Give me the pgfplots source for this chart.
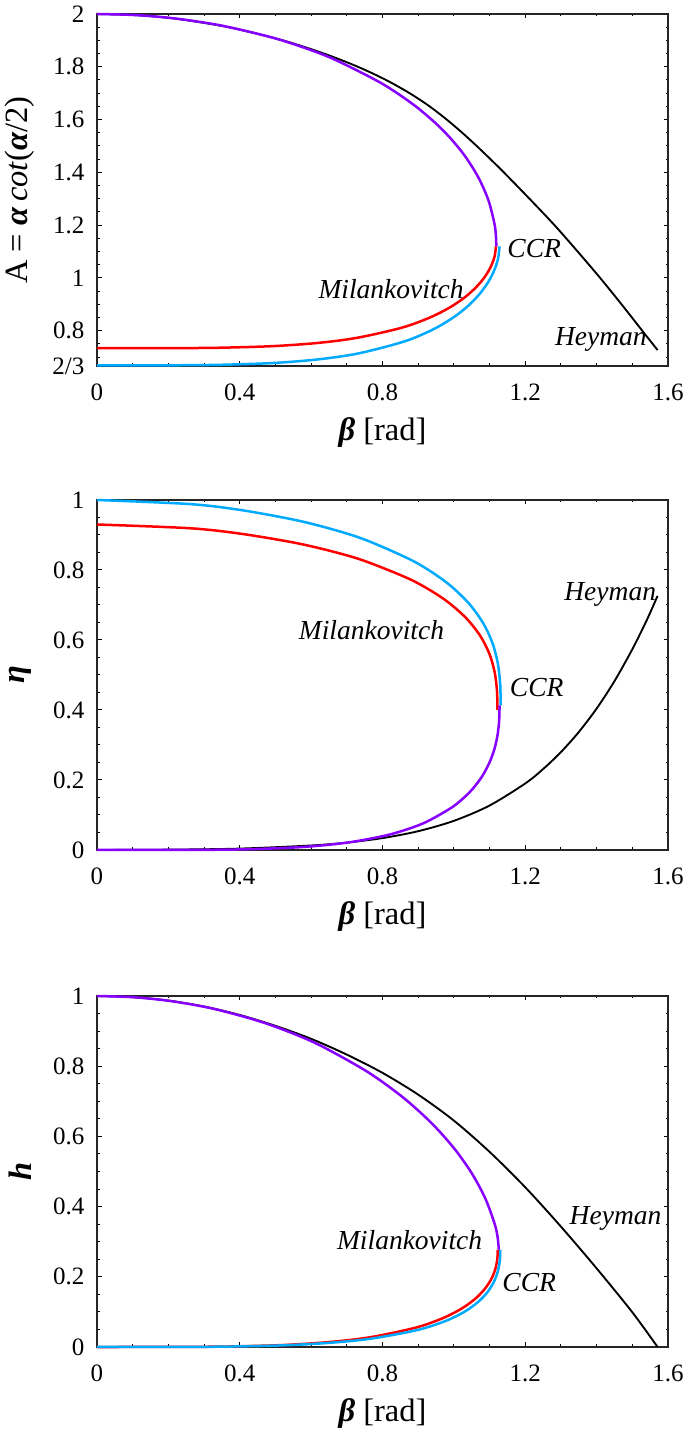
\documentclass[border=0pt]{standalone}
\usepackage{fontspec}
\setmainfont{Liberation Serif}
\usepackage{pgfplots}
\pgfplotsset{compat=1.18}
\definecolor{myred}{RGB}{255,0,0}
\definecolor{mycyan}{RGB}{0,170,255}
\definecolor{mypurple}{RGB}{136,0,255}
\tikzset{lab/.style={font=\fontsize{11}{13}\selectfont\itshape}}
\pgfplotsset{
  mystyle/.style={
    scale only axis, width=228.4pt,
    xmin=0, xmax=1.6, xtick={0,0.4,0.8,1.2,1.6}, minor x tick num=3,
    tick align=inside, major tick length=1.8pt, minor tick length=1pt,
    every tick/.style={black, line width=0.4pt},
    axis line style={line width=0.5pt, black!85},
    tick label style={font=\fontsize{10}{12}\selectfont},
    /pgf/number format/assume math mode=true,
    xticklabel style={yshift=-3.5pt},
    yticklabel style={xshift=-1.5pt},
    xlabel={\textbf{\textit{β}} [rad]},
    label style={font=\fontsize{13}{15}\selectfont},
    xlabel style={at={(axis description cs:0.5,-0.19)}, anchor=center},
    ylabel style={at={(axis description cs:-0.135,0.5)}, anchor=center},
    clip=false,
  },
  blk/.style={black, line width=0.75pt, smooth, tension=0.5},
  rd/.style={myred, line width=1pt, smooth, tension=0.5},
  cy/.style={mycyan, line width=1pt, smooth, tension=0.5},
  pu/.style={mypurple, line width=1pt, smooth, tension=0.5},
}
\begin{document}
\begin{tikzpicture}
\path[use as bounding box] (0,0) rectangle (274pt,572.8pt);
% ---------------- Panel 1 ----------------
\begin{axis}[mystyle, at={(38.8pt,426.4pt)}, anchor=south west, height=140.8pt,
  ymin=0.6667, ymax=2,
  ytick={0.6667,0.8,1,1.2,1.4,1.6,1.8,2},
  yticklabels={2/3,0.8,1,1.2,1.4,1.6,1.8,2},
  minor ytick={0.7,0.75,0.85,0.9,0.95,1.05,1.1,1.15,1.25,1.3,1.35,1.45,1.5,1.55,1.65,1.7,1.75,1.85,1.9,1.95},
  ylabel={A = \textbf{\textit{α}}\,\textit{cot}(\textbf{\textit{α}}/2)}]
\addplot[blk] coordinates {(0,2) (0.1,1.9963) (0.165,1.99) (0.233,1.98) (0.368,1.95) (0.521,1.9) (0.636,1.85) (0.731,1.8) (0.81,1.75) (0.876,1.7) (0.932,1.65) (0.98,1.6) (1.0235,1.55) (1.064,1.5) (1.1025,1.45) (1.14,1.4) (1.212,1.3) (1.282,1.2) (1.347,1.1) (1.41,1.0) (1.47,0.9) (1.528,0.8) (1.5708,0.727)};
\addplot[rd] coordinates {(0,0.734) (0.13,0.734) (0.2319,0.7344) (0.3466,0.7359) (0.4893,0.7417) (0.6132,0.7533) (0.7253,0.7726) (0.8526,0.8112) (0.9321,0.8498) (0.9886,0.8884) (1.0308,0.927) (1.0627,0.9656) (1.0866,1.0042) (1.1035,1.0428) (1.114,1.0814) (1.118,1.12)};
\addplot[cy] coordinates {(0,0.669) (0.1315,0.669) (0.234,0.6695) (0.3497,0.6713) (0.4936,0.678) (0.6187,0.6916) (0.7318,0.7141) (0.8602,0.7592) (0.9404,0.8043) (0.9974,0.8494) (1.04,0.8945) (1.0722,0.9396) (1.0963,0.9847) (1.1134,1.0298) (1.124,1.0749) (1.128,1.12)};
\addplot[pu] coordinates {(0,2) (0.1118,1.9956) (0.2227,1.9824) (0.3494,1.956) (0.4878,1.912) (0.5895,1.868) (0.6714,1.824) (0.7991,1.736) (0.8952,1.648) (0.9691,1.56) (1.0256,1.472) (1.0674,1.384) (1.0964,1.296) (1.1134,1.208) (1.1176,1.164) (1.119,1.12)};
\node[lab] at (axis cs:1.225,1.112) {CCR};
\node[lab] at (axis cs:0.824,0.957) {Milankovitch};
\node[lab] at (axis cs:1.412,0.767) {Heyman};
\end{axis}
% ---------------- Panel 2 ----------------
\begin{axis}[mystyle, at={(38.8pt,232.8pt)}, anchor=south west, height=140pt,
  ymin=0, ymax=1, ytick={0,0.2,0.4,0.6,0.8,1}, minor y tick num=3,
  ylabel={\textbf{\textit{η}}}]
\addplot[blk] coordinates {(0,0) (0.2,0.001) (0.4,0.004) (0.6,0.0129) (0.7,0.0211) (0.8,0.034) (0.9,0.0537) (1.0,0.0833) (1.1,0.127) (1.2,0.1901) (1.25,0.2312) (1.3,0.2797) (1.35,0.337) (1.4,0.4041) (1.45,0.4824) (1.5,0.5735) (1.54,0.6556) (1.5708,0.726)};
\addplot[rd] coordinates {(0,0.93) (0.2586,0.9194) (0.4035,0.9035) (0.5583,0.877) (0.6687,0.8505) (0.7549,0.824) (0.8822,0.771) (0.9705,0.718) (1.032,0.665) (1.0738,0.612) (1.1001,0.559) (1.1147,0.506) (1.1209,0.453) (1.122,0.40)};
\addplot[cy] coordinates {(0,1) (0.2607,0.9883) (0.4067,0.9707) (0.5628,0.9413) (0.6741,0.912) (0.7609,0.8826) (0.8893,0.8239) (0.9783,0.7652) (1.0403,0.7065) (1.0823,0.6478) (1.1089,0.5891) (1.1236,0.5304) (1.1299,0.4717) (1.131,0.413)};
\addplot[pu] coordinates {(1.128,0.413) (1.127,0.3717) (1.1227,0.3304) (1.1138,0.2891) (1.0989,0.2478) (1.0766,0.2065) (1.0442,0.1652) (0.9975,0.1239) (0.9276,0.0826) (0.8775,0.062) (0.8085,0.0413) (0.6987,0.0207) (0.5726,0.0083) (0.4218,0.0021) (0.2951,0.0004) (0.177,0.00004) (0,0)};
\node[lab] at (axis cs:1.438,0.729) {Heyman};
\node[lab] at (axis cs:0.769,0.629) {Milankovitch};
\node[lab] at (axis cs:1.232,0.463) {CCR};
\end{axis}
% ---------------- Panel 3 ----------------
\begin{axis}[mystyle, at={(38.8pt,34pt)}, anchor=south west, height=140.4pt,
  ymin=0, ymax=1, ytick={0,0.2,0.4,0.6,0.8,1}, minor y tick num=3,
  ylabel={\textbf{\textit{h}}}]
\addplot[blk] coordinates {(0,1) (0.1,0.9967) (0.2,0.987) (0.3,0.97) (0.4,0.946) (0.5,0.915) (0.6,0.878) (0.7,0.833) (0.8,0.781) (0.9,0.719) (1.0,0.645) (1.1,0.556) (1.2,0.455) (1.3,0.343) (1.4,0.224) (1.5,0.099) (1.5708,0)};
\addplot[rd] coordinates {(0,0) (0.1384,0.00003) (0.2459,0.0003) (0.3674,0.0014) (0.5184,0.0055) (0.6486,0.0139) (0.7649,0.0277) (0.8939,0.0554) (0.9713,0.0831) (1.0239,0.1108) (1.0611,0.1385) (1.0872,0.1662) (1.105,0.1939) (1.116,0.2216) (1.1216,0.2493) (1.123,0.277)};
\addplot[cy] coordinates {(0,0) (0.1392,0.00003) (0.2475,0.0002) (0.3697,0.0012) (0.5216,0.0047) (0.6526,0.0119) (0.7696,0.024) (0.8995,0.0488) (0.9774,0.0744) (1.0303,0.1008) (1.0677,0.1281) (1.094,0.1562) (1.1119,0.1852) (1.123,0.215) (1.1286,0.2456) (1.13,0.277)};
\addplot[pu] coordinates {(0,1) (0.1036,0.9964) (0.2068,0.9855) (0.3254,0.9639) (0.456,0.9277) (0.5532,0.8916) (0.6327,0.8554) (0.7593,0.7831) (0.8578,0.7108) (0.9368,0.6385) (1.0005,0.5662) (1.0508,0.4939) (1.0888,0.4216) (1.1147,0.3493) (1.1225,0.3132) (1.126,0.277)};
\node[lab] at (axis cs:1.453,0.365) {Heyman};
\node[lab] at (axis cs:0.876,0.305) {Milankovitch};
\node[lab] at (axis cs:1.211,0.183) {CCR};
\end{axis}
\end{tikzpicture}
\end{document}
